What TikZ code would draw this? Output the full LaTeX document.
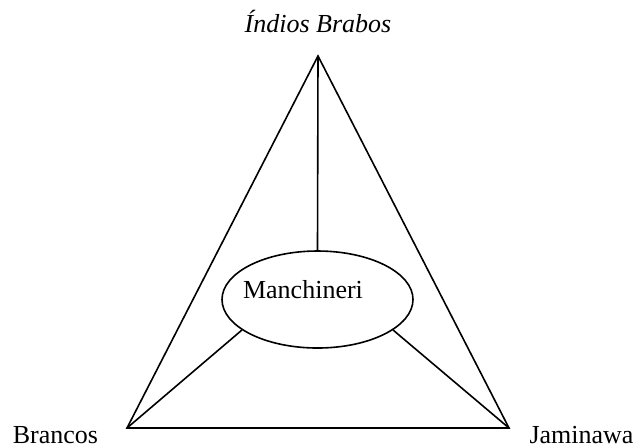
\documentclass[tikz,border=0pt]{standalone}
\usepackage{fontspec}
\setmainfont{Liberation Serif}
\usetikzlibrary{shapes.geometric}

\begin{document}
\begin{tikzpicture}[x=0.5pt, y=-0.5pt, line width=0.8pt, font={\fontsize{13}{15}\selectfont}]
				\useasboundingbox (0,0) rectangle (637,447);
				\coordinate (top) at (318,56);
				\coordinate (left) at (127,428);
				\coordinate (right) at (509,428);
				\draw (top) -- (left) -- (right) -- cycle;
				
				\node [draw, ellipse, inner sep=0pt, minimum width=95.5pt, minimum height=48.5pt] (manch) at (317.5,299.5) {};
				\node [anchor=base] (manchtxt) at (303,298) {Manchineri};
				\node [anchor=base, font={\fontsize{13}{15}\selectfont\itshape}] (indios) at (318,32) {Índios Brabos};
				\node [anchor=base] (brancos) at (55.5,443) {Brancos};
				\node [anchor=base] (jamin) at (581.5,443) {Jaminawa};
				
				\draw (manch.north) -- (top);
				\draw (manch.202) -- (left);
				\draw (manch.338) -- (right);
			\end{tikzpicture}
\end{document}
